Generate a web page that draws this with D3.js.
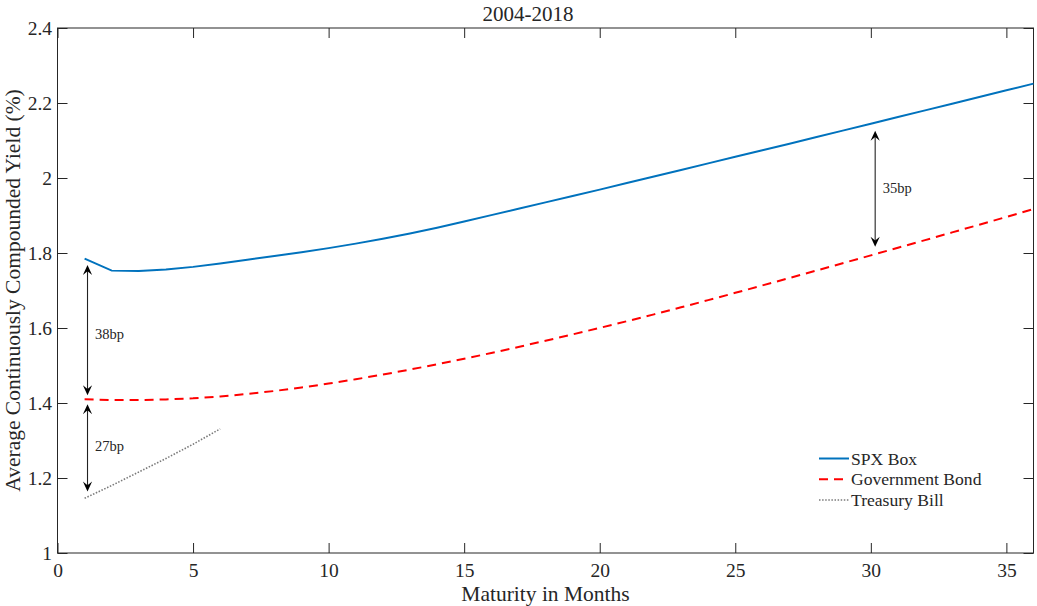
<!DOCTYPE html>
<html>
<head>
<meta charset="utf-8">
<script src="https://cdn.jsdelivr.net/npm/d3@7"></script>
<style>
  body { margin: 0; background: #fff; }
  svg { display: block; }
  text { font-family: "Liberation Serif", "Times New Roman", serif; fill: #262626; }
</style>
</head>
<body>
<svg id="chart" width="1037" height="606"></svg>
<script>
// ---- data ----
const months = [1,2,3,4,5,6,7,8,9,10,11,12,13,14,15,16,17,18,19,20,21,22,23,24,25,26,27,28,29,30,31,32,33,34,35,36];
const spxBox = [1.785,1.753,1.752,1.756,1.763,1.772,1.782,1.792,1.802,1.813,1.825,1.838,1.852,1.8675,1.884,1.901,1.918,1.935,1.952,1.969,1.9865,2.004,2.0215,2.039,2.0565,2.074,2.0915,2.1092,2.127,2.1448,2.1626,2.1804,2.1982,2.216,2.2338,2.2516];
const govBond = [1.410,1.408,1.408,1.4095,1.4125,1.4175,1.424,1.432,1.4413,1.4518,1.4633,1.4758,1.4891,1.5031,1.5179,1.5334,1.5494,1.5659,1.5829,1.6003,1.6181,1.6363,1.6551,1.6743,1.6938,1.7135,1.7334,1.7534,1.7735,1.7937,1.8140,1.8344,1.8549,1.8755,1.8962,1.9170];
const billMonths = [1,2,3,4,5,6];
const tBill = [1.146,1.180,1.216,1.252,1.290,1.331];
const seriesNames = ["SPX Box","Government Bond","Treasury Bill"];
const xTicks = [0,5,10,15,20,25,30,35];
const yTicks = [1,1.2,1.4,1.6,1.8,2,2.2,2.4];
const yTickLabels = ["1","1.2","1.4","1.6","1.8","2","2.2","2.4"];
const annotMonth = [1.107,1.107,30.16];
const annotTop = [1.768,1.397,2.126];
const annotBottom = [1.421,1.164,1.817];
const annotTextY = [1.584,1.285,1.974];
const annotLabels = ["38bp","27bp","35bp"];
const titleText = "2004-2018";
const xLabel = "Maturity in Months";
const yLabel = "Average Continuously Compounded Yield (%)";

// ---- layout ----
const W = 1037, H = 606;
const L = 57.5, T = 28, R = 1033.5, B = 553;
const svg = d3.select("#chart");

const x = d3.scaleLinear().domain([0,36]).range([L,R]);
const y = d3.scaleLinear().domain([1,2.4]).range([B,T]);

const axisColor = "#262626";
const tickFont = "19.5px";

// axes
const gx = svg.append("g").attr("transform",`translate(0,${B})`)
  .call(d3.axisBottom(x).tickValues(xTicks).tickSize(-10).tickSizeOuter(0).tickPadding(10.5).tickFormat(d3.format("d")));
const gy = svg.append("g").attr("transform",`translate(${L},0)`)
  .call(d3.axisLeft(y).tickValues(yTicks).tickSize(-10).tickSizeOuter(0).tickPadding(5.5)
    .tickFormat((d,i)=>yTickLabels[i]));
const gt = svg.append("g").attr("transform",`translate(0,${T})`)
  .call(d3.axisTop(x).tickValues(xTicks).tickSize(-10).tickSizeOuter(0).tickFormat(""));
const gr = svg.append("g").attr("transform",`translate(${R},0)`)
  .call(d3.axisRight(y).tickValues(yTicks).tickSize(-10).tickSizeOuter(0).tickFormat(""));
[gx,gy,gt,gr].forEach(g=>{
  g.select(".domain").remove();
  g.selectAll(".tick line").attr("stroke",axisColor).attr("stroke-width",1);
  g.selectAll(".tick text").attr("font-family",'"Liberation Serif", "Times New Roman", serif')
    .attr("font-size",tickFont).attr("fill",axisColor);
});
svg.append("rect").attr("x",L).attr("y",T).attr("width",R-L).attr("height",B-T)
  .attr("fill","none").attr("stroke",axisColor).attr("stroke-width",1);

// lines
const line = d3.line().x(d=>x(d[0])).y(d=>y(d[1]));
svg.append("path").datum(months.map((m,i)=>[m,govBond[i]]))
  .attr("d",line).attr("fill","none").attr("stroke","#ff0000").attr("stroke-width",2)
  .attr("stroke-dasharray","9,6");
svg.append("path").datum(billMonths.map((m,i)=>[m,tBill[i]]))
  .attr("d",line).attr("fill","none").attr("stroke","#7a7a7a").attr("stroke-width",1.6)
  .attr("stroke-dasharray","1.5,1.6");
svg.append("path").datum(months.map((m,i)=>[m,spxBox[i]]))
  .attr("d",line).attr("fill","none").attr("stroke","#0072bd").attr("stroke-width",2);

// annotations (double arrows)
function head(px, py, dir) { // dir=+1: points up (body below), -1: points down
  const Lh = 10, w = 4.6, n = 6.2;
  return `M${px},${py} L${px-w},${py+dir*Lh} L${px},${py+dir*n} L${px+w},${py+dir*Lh} Z`;
}
annotMonth.forEach((m,i)=>{
  const ax = x(m), yt = y(annotTop[i]), yb = y(annotBottom[i]);
  svg.append("line").attr("x1",ax).attr("x2",ax).attr("y1",yt+4).attr("y2",yb-4)
    .attr("stroke","#222").attr("stroke-width",1.1);
  svg.append("path").attr("d",head(ax,yt,1)).attr("fill","#000");
  svg.append("path").attr("d",head(ax,yb,-1)).attr("fill","#000");
  svg.append("text").attr("x",ax+7.5).attr("y",y(annotTextY[i])).attr("dy","0.34em")
    .attr("font-size","14.5px").attr("fill","#000").text(annotLabels[i]);
});

// legend
const legColors = ["#0072bd","#ff0000","#7a7a7a"];
const legDash = [null,"9,6","1.5,1.6"];
const legWidth = [2,2,1.5];
seriesNames.forEach((name,i)=>{
  const ly = 458.5 + i*20.8;
  svg.append("line").attr("x1",819).attr("x2",849).attr("y1",ly).attr("y2",ly)
    .attr("stroke",legColors[i]).attr("stroke-width",legWidth[i])
    .attr("stroke-dasharray",legDash[i]);
  svg.append("text").attr("x",851).attr("y",ly+6).attr("font-size","17.6px").attr("fill","#000").text(name);
});

// titles
svg.append("text").attr("x",528).attr("y",20.7).attr("text-anchor","middle")
  .attr("font-size","21px").attr("fill","#000").text(titleText);
svg.append("text").attr("x",(L+R)/2).attr("y",600.5).attr("text-anchor","middle")
  .attr("font-size","21.5px").attr("fill",axisColor).text(xLabel);
svg.append("text").attr("transform",`translate(19.5,${(T+B)/2}) rotate(-90)`).attr("text-anchor","middle")
  .attr("font-size","21.5px").attr("fill",axisColor).text(yLabel);
</script>
</body>
</html>
